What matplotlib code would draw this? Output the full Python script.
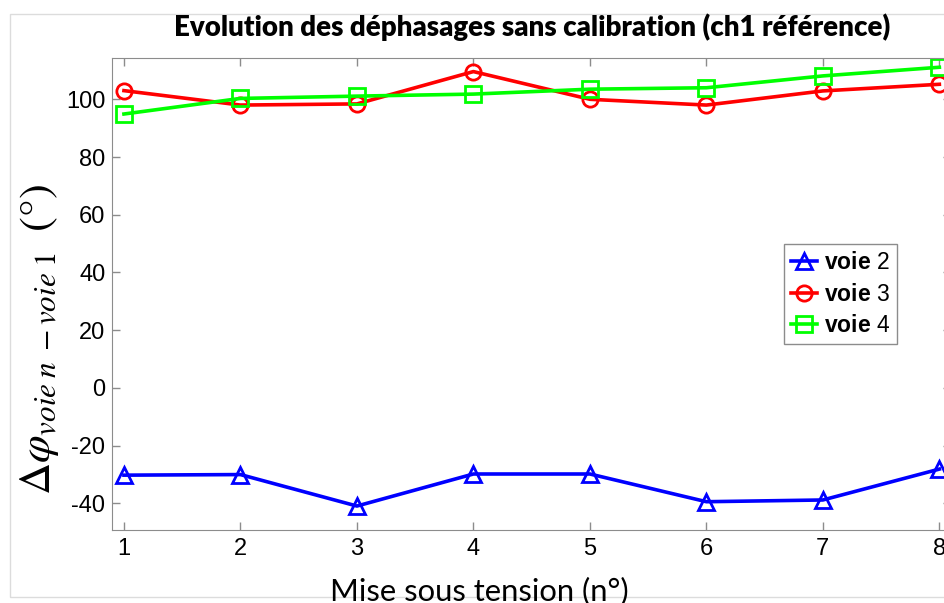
import matplotlib
matplotlib.use("Agg")
import matplotlib.pyplot as plt
from matplotlib.patches import Rectangle

# mises sous tension
essais = [1, 2, 3, 4, 5, 6, 7, 8]

# dephasages mesures (degres), ch1 en reference
voie2 = [-30.2, -30.0, -40.9, -29.8, -29.8, -39.4, -38.8, -28.1]
voie3 = [103.0, 98.0, 98.4, 109.6, 100.0, 98.0, 102.9, 105.2]
voie4 = [94.9, 100.3, 101.1, 101.8, 103.5, 104.0, 108.1, 111.1]

plt.rcParams['font.family'] = ['Liberation Sans', 'DejaVu Sans']
plt.rcParams['mathtext.fontset'] = 'custom'
plt.rcParams['mathtext.bf'] = 'Liberation Sans:bold'
plt.rcParams['mathtext.rm'] = 'Liberation Sans'
plt.rcParams['axes.unicode_minus'] = False

fig = plt.figure(figsize=(9.44, 6.03), dpi=100)
ax = fig.add_axes([112.3 / 944, 73 / 603, 838.7 / 944, 471.7 / 603])

style = dict(lw=2.6, ms=11, mew=2, mfc='none')
ax.plot(essais, voie2, '-^', color=(0, 0, 1), label=r'$\mathbf{voie}$ 2', **style)
ax.plot(essais, voie3, '-o', color=(1, 0, 0), label=r'$\mathbf{voie}$ 3', **style)
ax.plot(essais, voie4, '-s', color=(0, 1, 0), label=r'$\mathbf{voie}$ 4', **style)

ax.set_xlim(0.9, 8.1)
ax.set_ylim(-49.2, 114.2)
ax.set_xticks(essais)
ax.set_yticks(range(-40, 101, 20))

for s in ax.spines.values():
    s.set_color('#8c8c8c')
ax.tick_params(direction='in', length=6, width=1, color='#8c8c8c',
               labelsize=17, labelcolor='black', top=True, right=True)
ax.tick_params(axis='y', pad=5)
ax.tick_params(axis='x', pad=6)

ax.set_title('Evolution des déphasages sans calibration (ch1 référence)',
             fontsize=19.9, fontweight='heavy', family='Lato', x=0.5, y=1.0, pad=16)

ax.set_xlabel('Mise sous tension (n°)', fontsize=22.3, family='Lato')
ax.xaxis.set_label_coords(0.438, -0.099)

ylab = ax.set_ylabel(r'$\Delta\varphi_{voie\;n\;-voie\;1}\;\;(°)$', fontsize=32,
                     math_fontfamily='stix')
ax.yaxis.set_label_coords(-0.087, 0.403)
ylab.set_va('center')

leg = ax.legend(loc='upper left', bbox_to_anchor=(0.801, 0.606), borderaxespad=0,
                fontsize=16.5, fancybox=False, framealpha=1, edgecolor='#8c8c8c',
                handlelength=1.15, handletextpad=0.3, labelspacing=0.38,
                borderpad=0.3)
leg.get_frame().set_linewidth(1)

# cadre gris clair autour de la figure
fig.add_artist(Rectangle((10 / 944, 6 / 603), 1.0, 583 / 603, transform=fig.transFigure,
                         fill=False, edgecolor='#dcdcdc', lw=1, zorder=-1))

fig.savefig('out.png', dpi=100)
